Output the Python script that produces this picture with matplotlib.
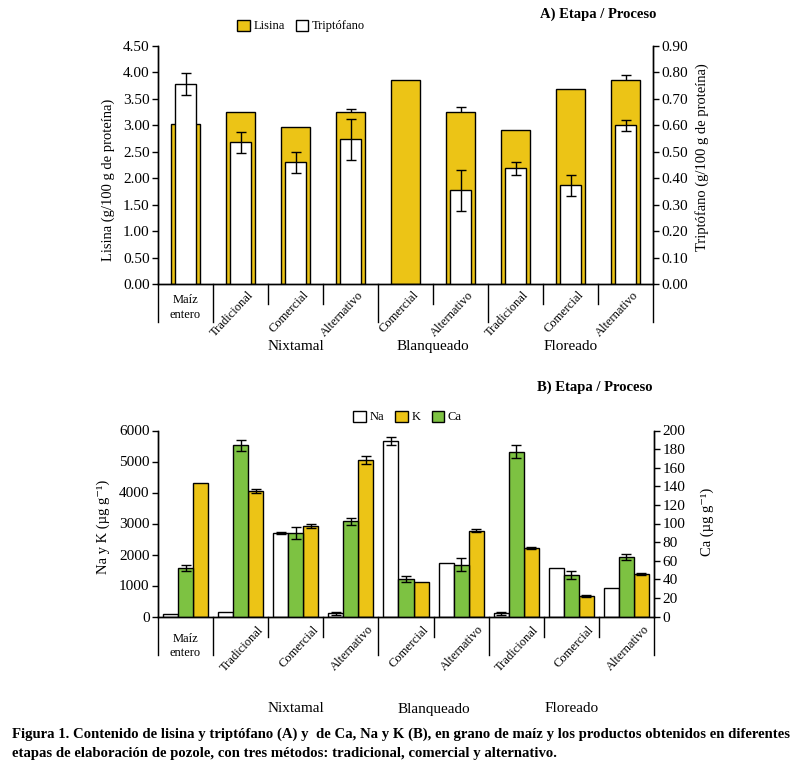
import numpy as np
import matplotlib.pyplot as plt

plt.rcParams['font.family'] = ['Liberation Serif', 'DejaVu Serif']

# Datos
categorias = ['Maíz\nentero', 'Tradicional', 'Comercial', 'Alternativo', 'Comercial',
              'Alternativo', 'Tradicional', 'Comercial', 'Alternativo']
etapas = ['Nixtamal', 'Blanqueado', 'Floreado']
etapa_pos = [2, 4.5, 7]

lisina = [3.02, 3.24, 2.96, 3.24, 3.86, 3.24, 2.90, 3.69, 3.86]
lisina_err = [0, 0, 0, 0.06, 0, 0.10, 0, 0, 0.08]
triptofano = [0.754, 0.535, 0.46, 0.546, np.nan, 0.354, 0.437, 0.373, 0.599]
triptofano_err = [0.042, 0.04, 0.04, 0.078, 0, 0.078, 0.025, 0.04, 0.02]

na = [75, 140, 2690, 107, 5650, 1730, 107, 1570, 925]
na_err = [0, 0, 43, 50, 129, 0, 50, 0, 0]
k = [4300, 4040, 2910, 5050, 1100, 2765, 2215, 667, 1376]
k_err = [0, 65, 65, 118, 0, 50, 30, 25, 40]
ca = [52, 184, 89.6, 102.5, 40.5, 55.6, 177, 44.8, 64.2]
ca_err = [3.6, 5.7, 6.8, 3.9, 3.2, 7.2, 7.0, 4.5, 3.2]

amarillo = '#ecc416'
verde = '#7dc242'

W, H = 806, 776
fig = plt.figure(figsize=(W / 100, H / 100), dpi=100)


def ejes_px(x0, y0, x1, y1):
    return fig.add_axes([x0 / W, 1 - y1 / H, (x1 - x0) / W, (y1 - y0) / H])


def con_error(x, y, e):
    # solo los puntos con barra de error
    x, y, e = np.asarray(x, float), np.asarray(y, float), np.asarray(e, float)
    m = e > 0
    return x[m], y[m], e[m]


def formato(ax, ax2):
    for a in (ax, ax2):
        a.spines['top'].set_visible(False)
        for s in a.spines.values():
            s.set_linewidth(1)
        a.tick_params(axis='y', direction='out', length=4, width=1, labelsize=11, pad=2)
    ax.set_xlim(-0.5, 8.5)
    ax.set_xticks([])


def separadores(ax, largo, corto):
    for b in np.arange(-0.5, 9, 1):
        l = largo if b in (-0.5, 0.5, 3.5, 5.5, 8.5) else corto
        ax.plot([b, b], [0, -l], color='k', lw=1, transform=ax.get_xaxis_transform(),
                clip_on=False)


def etiquetas(ax, dx, dy, maiz_y, etapa_y):
    t = ax.get_xaxis_transform()
    ax.text(0, maiz_y, categorias[0], ha='center', va='top', fontsize=9,
            linespacing=1.3, transform=t)
    for i in range(1, 9):
        ax.text(i + dx, dy, categorias[i], rotation=47, ha='right', va='top',
                rotation_mode='anchor', fontsize=9, transform=t)
    for p, e in zip(etapa_pos, etapas):
        ax.text(p, etapa_y, e, ha='center', va='baseline', fontsize=11, transform=t)


x = np.arange(len(categorias))

# ---- A) Lisina y triptofano
axA = ejes_px(158, 45.7, 653, 284)
axA2 = axA.twinx()

xe, ye, ee = con_error(x, lisina, lisina_err)
axA.errorbar(xe, ye, yerr=ee, fmt='none', ecolor='k', elinewidth=1, capsize=3.5, zorder=1)
bl = axA.bar(x, lisina, width=0.53, color=amarillo, edgecolor='k', linewidth=1, zorder=2)

tri = np.array(triptofano)
m = ~np.isnan(tri)
bt = axA2.bar(x[m], tri[m], width=0.38, color='white', edgecolor='k', linewidth=1, zorder=2)
xe, ye, ee = con_error(x, triptofano, triptofano_err)
axA2.errorbar(xe, ye, yerr=ee, fmt='none', ecolor='k', elinewidth=1, capsize=3.5, zorder=3)

axA.set_ylim(0, 4.5)
axA.set_yticks(np.arange(0, 4.51, 0.5))
axA.set_yticklabels(['%.2f' % v for v in np.arange(0, 4.51, 0.5)])
axA2.set_ylim(0, 0.9)
axA2.set_yticks(np.arange(0, 0.91, 0.1))
axA2.set_yticklabels(['%.2f' % v for v in np.arange(0, 0.91, 0.1)])
formato(axA, axA2)
separadores(axA, 38 / 238.3, 20 / 238.3)
etiquetas(axA, 0.12, -5 / 238.3, -10 / 238.3, -66 / 238.3)

fig.legend([bl, bt], ['Lisina', 'Triptófano'], loc='center left',
           bbox_to_anchor=(237 / W, 1 - 26 / H), ncol=2, frameon=False, fontsize=9,
           handlelength=1.0, handleheight=1.0, handletextpad=0.3, columnspacing=0.9,
           borderpad=0, borderaxespad=0)

# ---- B) Na, K y Ca
axB = ejes_px(158, 430.5, 654, 616.5)
axB2 = axB.twinx()
w = 0.273

bna = axB.bar(x - w, na, width=w, color='white', edgecolor='k', linewidth=1, zorder=2)
bk = axB.bar(x + w, k, width=w, color=amarillo, edgecolor='k', linewidth=1, zorder=2)
bca = axB2.bar(x, ca, width=w, color=verde, edgecolor='k', linewidth=1, zorder=2)
xe, ye, ee = con_error(x - w, na, na_err)
axB.errorbar(xe, ye, yerr=ee, fmt='none', ecolor='k', elinewidth=1, capsize=3.5, zorder=3)
xe, ye, ee = con_error(x + w, k, k_err)
axB.errorbar(xe, ye, yerr=ee, fmt='none', ecolor='k', elinewidth=1, capsize=3.5, zorder=3)
xe, ye, ee = con_error(x, ca, ca_err)
axB2.errorbar(xe, ye, yerr=ee, fmt='none', ecolor='k', elinewidth=1, capsize=3.5, zorder=3)

axB.set_ylim(0, 6000)
axB.set_yticks(np.arange(0, 6001, 1000))
axB2.set_ylim(0, 200)
axB2.set_yticks(np.arange(0, 201, 20))
formato(axB, axB2)
separadores(axB, 38.5 / 186, 20.5 / 186)
etiquetas(axB, 0.3, -7 / 186, -16 / 186, -96 / 186)

fig.legend([bna, bk, bca], ['Na', 'K', 'Ca'], loc='center left',
           bbox_to_anchor=(353 / W, 1 - 417 / H), ncol=3, frameon=False, fontsize=9,
           handlelength=1.0, handleheight=1.0, handletextpad=0.3, columnspacing=0.9,
           borderpad=0, borderaxespad=0)

# Titulos y ejes
fig.text(598 / W, 1 - 14 / H, 'A) Etapa / Proceso', ha='center', va='center',
         fontsize=10.5, weight='bold')
fig.text(595 / W, 1 - 387 / H, 'B) Etapa / Proceso', ha='center', va='center',
         fontsize=10.5, weight='bold')
fig.text(108 / W, 1 - 180 / H, 'Lisina (g/100 g de proteína)', rotation=90,
         ha='center', va='center', fontsize=10.5)
fig.text(702 / W, 1 - 157 / H, 'Triptófano (g/100 g de proteína)', rotation=90,
         ha='center', va='center', fontsize=10.5)
fig.text(103 / W, 1 - 527 / H, 'Na y K (µg g⁻¹)', rotation=90,
         ha='center', va='center', fontsize=10.5)
fig.text(707 / W, 1 - 522 / H, 'Ca (µg g⁻¹)', rotation=90,
         ha='center', va='center', fontsize=10.5)

fig.text(12 / W, 1 - 734 / H, 'Figura 1. Contenido de lisina y triptófano (A) y  de Ca, Na y K (B), '
         'en grano de maíz y los productos obtenidos en diferentes',
         ha='left', va='center', fontsize=10.6, weight='bold')
fig.text(12 / W, 1 - 753 / H, 'etapas de elaboración de pozole, con tres métodos: '
         'tradicional, comercial y alternativo.',
         ha='left', va='center', fontsize=10.6, weight='bold')

plt.savefig('out.png', dpi=100)
